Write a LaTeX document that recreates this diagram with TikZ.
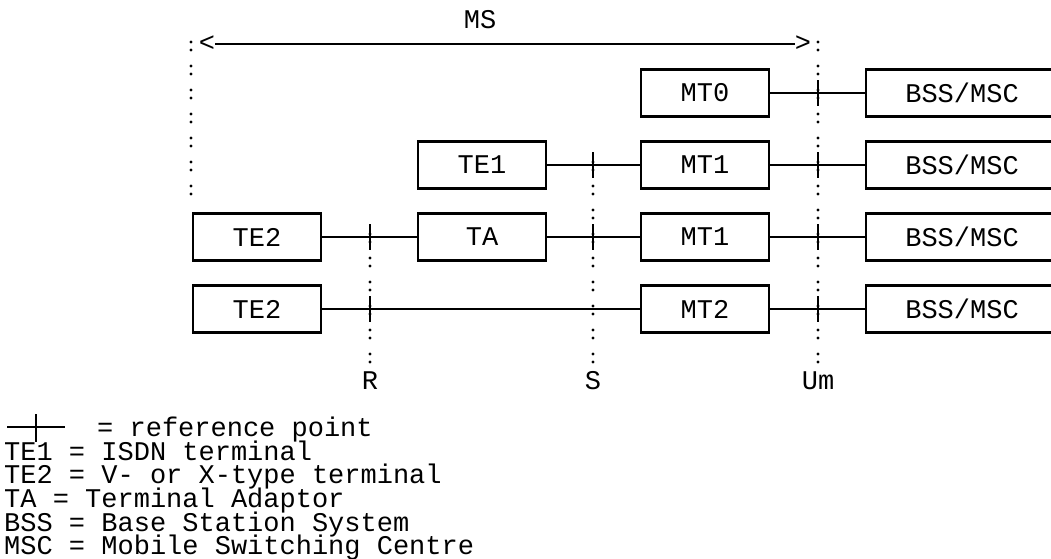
\documentclass[tikz,border=0pt]{standalone}
\usepackage{fontspec}
\setmonofont{Liberation Mono}
\usepackage{tikz}
\usetikzlibrary{calc,positioning}

\tikzset{
  lbl/.style={font=\ttfamily\fontsize{27}{24}\selectfont, inner sep=0pt},
  keyline/.style={lbl, anchor=base west, text height=17pt, text depth=4pt},
  unit/.style={lbl, draw, line width=2.6pt, minimum width=128pt, minimum height=47pt},
  netbox/.style={unit, minimum width=192pt},
  wire/.style={line width=2.2pt},
  tick/.style={line width=2.6pt},
  refline/.style={line width=3.2pt, line cap=round, dash pattern=on 0pt off 8pt on 0pt off 16pt},
}
% vertical bar of a reference point
\newcommand{\refpt}[2]{\draw[tick] (#1,#2-13) -- (#1,#2+13);}

\begin{document}
\begin{tikzpicture}[x=1pt,y=-1pt]
  \clip (0,0) rectangle (1051,558);
  \def\xR{370}
  \def\xS{593}
  \def\xU{818}

  % reference lines
  \draw[refline] (191,42) -- (191,194);
  \draw[refline] (\xU,42) -- (\xU,363);
  \draw[refline] (\xS,162) -- (\xS,363);
  \draw[refline] (\xR,234) -- (\xR,363);
  \node[lbl] (lR) at (\xR,381) {R};
  \node[lbl] (lS) at (\xS,381) {S};
  \node[lbl] (lU) at (\xU,381) {Um};

  % MS span
  \node[lbl] (ms) at (480,20) {MS};
  \node[lbl] (msl) at (207,44) {<};
  \node[lbl] (msr) at (803,44) {>};
  \draw[line width=2.6pt] (msl.east) -- (msr.west);

  % units
  \node[unit] (mt0) at (705,93) {MT0};
  \node[netbox] (bss0) at (962,93) {BSS/MSC};
  \node[unit] (te1) at (482,165) {TE1};
  \node[unit] (mt1a) at (705,165) {MT1};
  \node[netbox] (bss1) at (962,165) {BSS/MSC};
  \node[unit] (te2a) at (257,237) {TE2};
  \node[unit] (ta) at (482,237) {TA};
  \node[unit] (mt1b) at (705,237) {MT1};
  \node[netbox] (bss2) at (962,237) {BSS/MSC};
  \node[unit] (te2b) at (257,309) {TE2};
  \node[unit] (mt2) at (705,309) {MT2};
  \node[netbox] (bss3) at (962,309) {BSS/MSC};

  % links
  \draw[wire] (mt0) -- (bss0);
  \draw[wire] (te1) -- (mt1a);
  \draw[wire] (mt1a) -- (bss1);
  \draw[wire] (te2a) -- (ta);
  \draw[wire] (ta) -- (mt1b);
  \draw[wire] (mt1b) -- (bss2);
  \draw[wire] (te2b) -- (mt2);
  \draw[wire] (mt2) -- (bss3);

  % reference points
  \foreach \y in {93,165,237,309}{\refpt{\xU}{\y}}
  \foreach \y in {165,237}{\refpt{\xS}{\y}}
  \foreach \y in {237,309}{\refpt{\xR}{\y}}

  % legend
  \coordinate (kl) at (7,427);
  \coordinate (kr) at (65,427);
  \draw[tick] (kl) -- (kr);
  \draw[tick] (36,414) -- (36,442);
  \node[keyline] (k0) at (97,436) {= reference point};
  \node[keyline] (k1) at (4,460) {TE1 = ISDN terminal};
  \node[keyline] (k2) at (4,483) {TE2 = V- or X-type terminal};
  \node[keyline] (k3) at (4,507) {TA = Terminal Adaptor};
  \node[keyline] (k4) at (4,531) {BSS = Base Station System};
  \node[keyline] (k5) at (4,554) {MSC = Mobile Switching Centre};
\end{tikzpicture}
\end{document}
